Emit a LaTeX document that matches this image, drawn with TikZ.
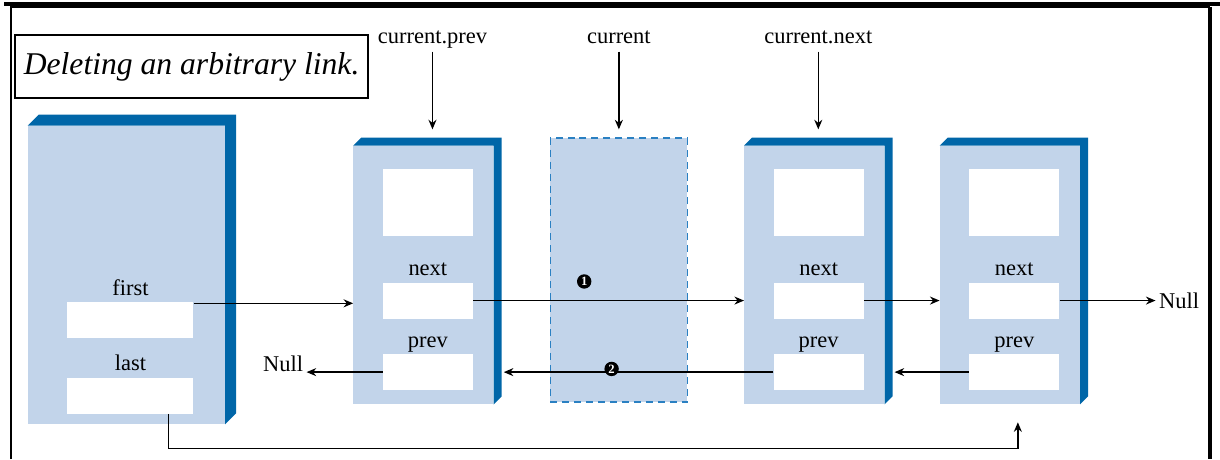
\documentclass[tikz,border=0pt]{standalone}
\usepackage{fontspec}
\setmainfont{Liberation Serif}
\usepackage{xcolor}
\definecolor{faceBlue}    {HTML}{C2D4EA}
\definecolor{sideBlue}    {HTML}{0066A8}
\definecolor{dashBlue}    {HTML}{2A80C2}
\usetikzlibrary{arrows.meta, positioning, calc}
\tikzset{
    listface/.style={rectangle, fill=faceBlue, minimum width=35mm,
                     minimum height=64.5mm, inner sep=0pt},
    headface/.style={listface, minimum width=49.25mm, minimum height=74.5mm},
    gone/.style={listface, draw=dashBlue, line width=0.9pt,
                 dash pattern=on 5pt off 3.5pt,
                 minimum width=34.25mm, minimum height=66mm},
    field/.style={rectangle, fill=white, minimum width=22.5mm,
                  minimum height=9mm, inner sep=0pt},
    datafield/.style={field, minimum height=16.75mm},
    headfield/.style={field, minimum width=31.5mm},
    fieldlabel/.style={inner sep=0pt, text depth=1.3mm,
                       font=\fontsize{16}{18}\selectfont},
    ptrlabel/.style={inner sep=0.8mm, font=\fontsize{16}{18}\selectfont},
    toplabel/.style={ptrlabel, text height=3.2mm, text depth=1.3mm},
    titlebox/.style={draw, line width=0.9pt, minimum width=88.25mm,
                     minimum height=15.75mm,
                     font=\itshape\fontsize{22.5}{26}\selectfont},
    stepmark/.style={circle, fill=black, text=white, minimum size=3.6mm,
                     inner sep=0pt, font=\bfseries\fontsize{9}{9}\selectfont},
    ptr/.style={-{Stealth[length=2.4mm, width=2mm]}, line width=1pt},
}

\begin{document}
\begin{tikzpicture}
    \useasboundingbox (0,0) rectangle (30.5,11.475);
    % page frame
    \draw[line width=2.2pt] (0.1,11.375) -- (30.5,11.375);
    \draw[line width=1.2pt] (0.275,0) -- (0.275,11.3) -- (30.25,11.3);
    \draw[line width=2.2pt] (30.25,11.3) -- (30.25,0);
    \node[titlebox] (title) at (4.79,9.81) {Deleting an arbitrary link.};
    % list object and nodes
    \node[headface] (head) at (3.16,4.6) {};
    \node[listface, right=32mm of head] (cp) {};
    \node[gone, right=14mm of cp, yshift=1.25mm] (cur) {};
    \node[listface, right=14mm of cur, yshift=-1.25mm] (cn) {};
    \node[listface, right=13.75mm of cn] (nn) {};
    % raised edges
    \foreach \n/\d in {head/2.75mm, cp/2mm, cn/2mm, nn/2mm}
        \fill[sideBlue] (\n.north west) -- ++(\d,\d)
            -- ([shift={(\d,\d)}]\n.north east)
            -- ([shift={(\d,\d)}]\n.south east)
            -- (\n.south east) -- (\n.north east) -- cycle;
    % fields
    \node[headfield, below=44mm of head.north, xshift=1mm] (firstf) {};
    \node[headfield, below=9.75mm of firstf] (lastf) {};
    \node[fieldlabel, above=0.3mm of firstf] {first};
    \node[fieldlabel, above=0.3mm of lastf] {last};
    \foreach \n in {cp, cn, nn} {
        \node[datafield, below=5.75mm of \n.north, xshift=1.1mm] (\n data) {};
        \node[field, below=11.5mm of \n data] (\n next) {};
        \node[field, below=8.75mm of \n next] (\n prev) {};
        \node[fieldlabel, above=0.3mm of \n next] {next};
        \node[fieldlabel, above=0.3mm of \n prev] {prev};
    }
    % pointers
    \coordinate (firstout) at ([yshift=-.4mm]firstf.north east);
    \draw[ptr] (firstout) -- (firstout -| cp.west);
    \draw[ptr] (cpnext.east) -- node[stepmark, pos=.41, above=2.8mm] {1}
        (cpnext.east -| cn.west);
    \draw[ptr] (cnnext.east) -- (cnnext.east -| nn.west);
    \node[ptrlabel, right=24mm of nnnext] (nullr) {Null};
    \draw[ptr] (nnnext.east) -- (nullr.west);
    \draw[ptr] (nnprev.west) -- ($(nnprev.west -| cn.east)+(2.5mm,0)$);
    \draw[ptr] (cnprev.west) -- node[stepmark, pos=.6, yshift=.8mm] {2}
        ($(cnprev.west -| cp.east)+(2.5mm,0)$);
    \node[ptrlabel, left=19mm of cpprev, yshift=2.2mm] (nulll) {Null};
    \draw[ptr] (cpprev.west) -- (cpprev.west -| nulll.east);
    % last pointer runs under the list
    \coordinate (lastout) at ([xshift=-6.25mm]lastf.south east);
    \coordinate (rail) at ([yshift=-11mm]nn.south);
    \coordinate (loopin) at ([xshift=2mm, yshift=-4.5mm]nn.south);
    \draw[ptr] (lastout) -- (lastout |- rail) -| (loopin);
    % references into the list
    \node[toplabel, above=23.5mm of cp, xshift=2.25mm] (lcp) {current.prev};
    \node[toplabel] (lcur) at (lcp -| cur) {current};
    \node[toplabel, xshift=1mm] (lcn) at (lcp -| cn) {current.next};
    \coordinate (tipline) at ([yshift=2mm]cur.north);
    \foreach \l in {lcp, lcur, lcn}
        \draw[ptr] (\l.south) -- (\l.south |- tipline);
\end{tikzpicture}
\end{document}
